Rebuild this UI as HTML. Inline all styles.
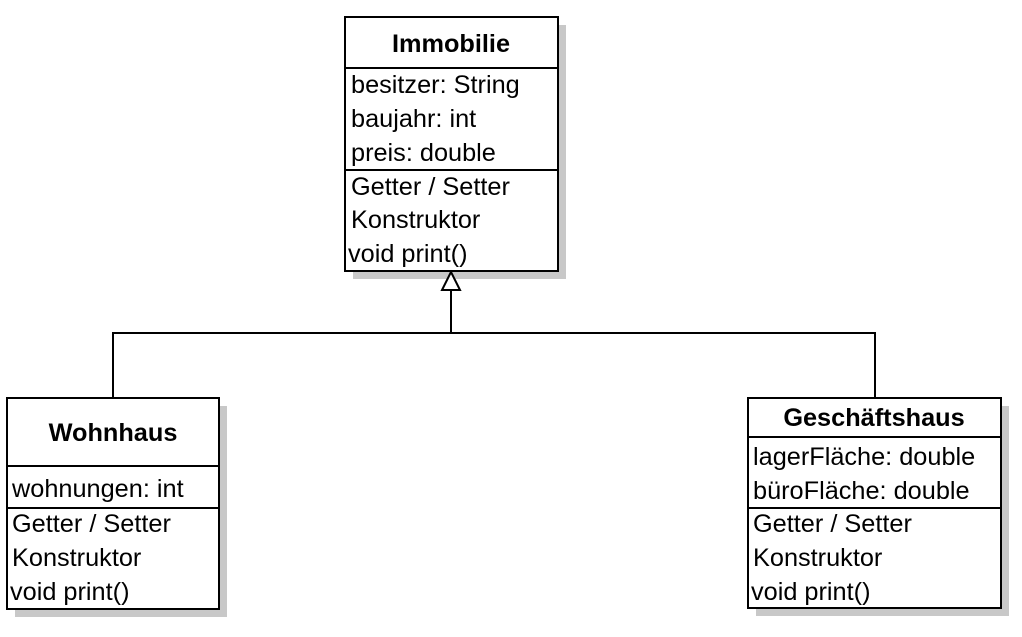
<!DOCTYPE html>
<html><head><meta charset="utf-8"><style>
html,body{margin:0;padding:0;background:#fff;}
svg text{font-family:"Liberation Sans",Arial,sans-serif;font-size:25.3px;fill:#000;}
</style></head><body>
<svg width="1022" height="632" viewBox="0 0 1022 632" xmlns="http://www.w3.org/2000/svg">
<rect x="353" y="25" width="213" height="254" fill="#c8c8c8"/>
<rect x="15" y="406" width="212" height="211" fill="#c8c8c8"/>
<rect x="756" y="406" width="253" height="210" fill="#c8c8c8"/>
<rect x="345" y="17" width="213" height="254" fill="#fff" stroke="#000" stroke-width="2"/>
<line x1="345" y1="68" x2="558" y2="68" stroke="#000" stroke-width="2"/>
<line x1="345" y1="170" x2="558" y2="170" stroke="#000" stroke-width="2"/>
<text x="451" y="52" text-anchor="middle" font-weight="bold">Immobilie</text>
<text x="351" y="93">besitzer: String</text>
<text x="351" y="127">baujahr: int</text>
<text x="351" y="161">preis: double</text>
<text x="351" y="195">Getter / Setter</text>
<text x="351" y="228">Konstruktor</text>
<text x="348" y="262">void print()</text>
<rect x="7" y="398" width="212" height="211" fill="#fff" stroke="#000" stroke-width="2"/>
<line x1="7" y1="466" x2="219" y2="466" stroke="#000" stroke-width="2"/>
<line x1="7" y1="508" x2="219" y2="508" stroke="#000" stroke-width="2"/>
<text x="113" y="441" text-anchor="middle" font-weight="bold">Wohnhaus</text>
<text x="12" y="497">wohnungen: int</text>
<text x="12" y="532">Getter / Setter</text>
<text x="12" y="566">Konstruktor</text>
<text x="10" y="600">void print()</text>
<rect x="748" y="398" width="253" height="210" fill="#fff" stroke="#000" stroke-width="2"/>
<line x1="748" y1="437" x2="1001" y2="437" stroke="#000" stroke-width="2"/>
<line x1="748" y1="508" x2="1001" y2="508" stroke="#000" stroke-width="2"/>
<text x="874" y="426" text-anchor="middle" font-weight="bold">Geschäftshaus</text>
<text x="753" y="465">lagerFläche: double</text>
<text x="753" y="499">büroFläche: double</text>
<text x="753" y="532">Getter / Setter</text>
<text x="753" y="566">Konstruktor</text>
<text x="751" y="600">void print()</text>
<polygon points="451,272 442,290 460,290" fill="#fff" stroke="#000" stroke-width="2"/>
<line x1="451" y1="290" x2="451" y2="333" stroke="#000" stroke-width="2"/>
<polyline points="113,398 113,333 875,333 875,398" fill="none" stroke="#000" stroke-width="2"/>
</svg>
</body></html>
